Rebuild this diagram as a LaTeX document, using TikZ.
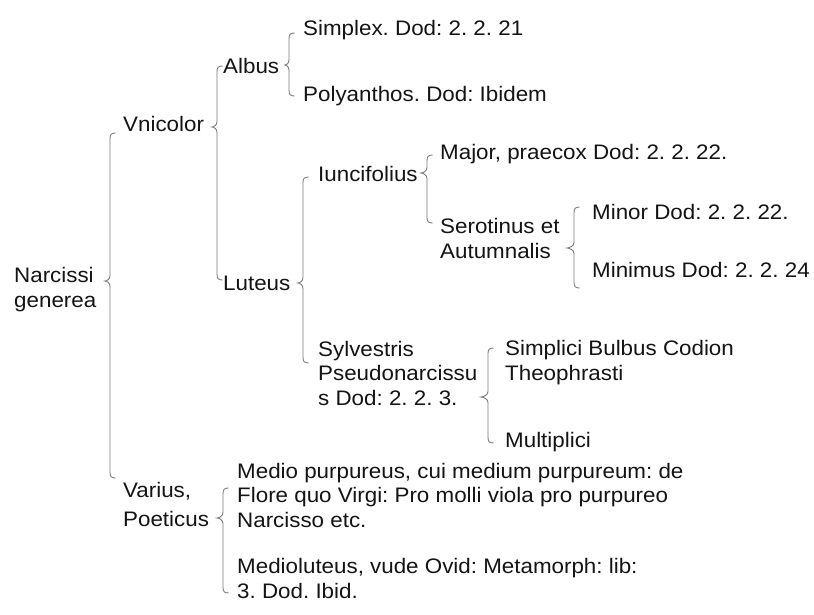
\documentclass[tikz,border=0pt]{standalone}
\usepackage{fontspec}
\setmainfont{Liberation Sans}[FakeStretch=1.065]
\usepackage{tikz}
\definecolor{bracegray}{HTML}{7A7A7A}
\definecolor{inkblack}{HTML}{141414}
\tikzset{
  lbl/.style={anchor=base west, inner sep=0pt, align=left, text=inkblack,
              font=\fontsize{21}{24.5}\selectfont\frenchspacing},
  bracket/.style={draw=bracegray, line width=0.9pt}
}
% stem x, top y, tip y, bottom y, tip x
\newcommand{\bracket}[5]{%
  \draw[bracket] (#1+5.5,#2) .. controls (#1+1.5,#2) and (#1,#2+1.5) .. (#1,#2+5.5)
    -- (#1,#3-5.5) .. controls (#1,#3-1.5) and (#5+1.5,#3) .. (#5,#3)
    .. controls (#5+1.5,#3) and (#1,#3+1.5) .. (#1,#3+5.5)
    -- (#1,#4-5.5) .. controls (#1,#4-1.5) and (#1+1.5,#4) .. (#1+5.5,#4);}

\begin{document}
\begin{tikzpicture}[x=1pt, y=-1pt]
  \useasboundingbox[fill=white] (0,0) rectangle (814,615);

  % first level (base = last line)
  \node[lbl] (narcissi) at (14,307) {Narcissi\\generea};
  \node[lbl] (vnicolor) at (123,132) {Vnicolor};
  \node[lbl] (varius) at (123,526) {Varius,\\[4.5pt]Poeticus};

  % Vnicolor
  \node[lbl] (albus) at (223,74) {Albus};
  \node[lbl] (luteus) at (223,290) {Luteus};
  \node[lbl] (simplex) at (303,36) {Simplex. Dod: 2. 2. 21};
  \node[lbl] (polyanthos) at (303,102) {Polyanthos. Dod: Ibidem};

  % Luteus
  \node[lbl] (iuncifolius) at (318,182) {Iuncifolius};
  \node[lbl] (sylvestris) at (318,405) {Sylvestris\\Pseudonarcissu\\s Dod: 2. 2. 3.};
  \node[lbl] (major) at (440,160) {Major, praecox Dod: 2. 2. 22.};
  \node[lbl] (serotinus) at (440,258) {Serotinus et\\Autumnalis};
  \node[lbl] (minor) at (592,219) {Minor Dod: 2. 2. 22.};
  \node[lbl] (minimus) at (592,277) {Minimus Dod: 2. 2. 24};
  \node[lbl] (simplici) at (505,380) {Simplici Bulbus Codion\\Theophrasti};
  \node[lbl] (multiplici) at (505,447) {Multiplici};

  % Varius
  \node[lbl] (mediopurp) at (237,527)
    {Medio purpureus, cui medium purpureum: de\\Flore quo Virgi: Pro molli viola pro purpureo\\Narcisso etc.};
  \node[lbl] (mediolut) at (237,598) {Medioluteus, vude Ovid: Metamorph: lib:\\3. Dod. Ibid.};

  % braces
  \bracket{110}{133}{281}{478}{105}
  \bracket{217}{66}{127}{280}{212}
  \bracket{289}{33}{65}{96}{285}
  \bracket{303}{177}{283}{363}{298}
  \bracket{427}{155}{173}{223}{421}
  \bracket{574}{207}{248}{288}{567}
  \bracket{488}{348}{397}{443}{481}
  \bracket{223}{488}{518}{593}{217}
\end{tikzpicture}
\end{document}
